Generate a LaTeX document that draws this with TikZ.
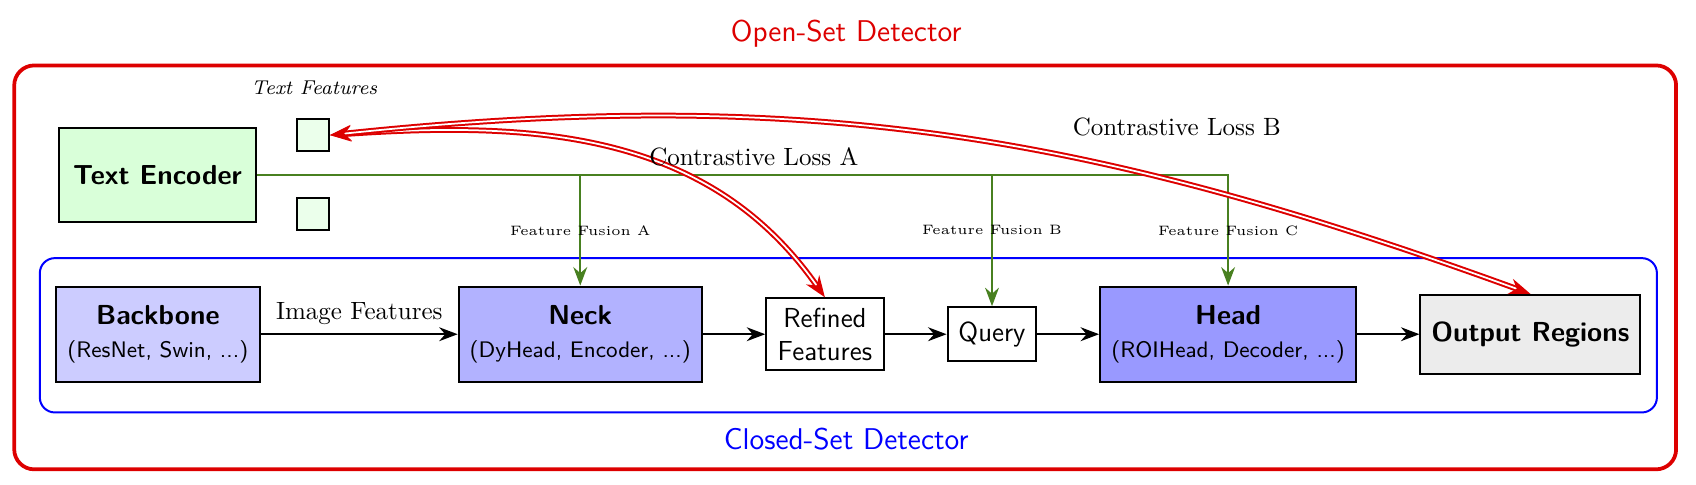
\documentclass[tikz,border=0pt]{standalone}
\usepackage{tikz}
\usetikzlibrary{arrows.meta,positioning,calc}
\definecolor{lossred}{RGB}{221,0,0}
\definecolor{fusegreen}{RGB}{72,128,32}
\tikzset{
  block/.style={draw=black,thick,align=center,font=\sffamily\fontsize{11}{13}\selectfont,
    minimum height=1.34cm},
  smallblock/.style={block,fill=white,minimum height=0.76cm},
  featbox/.style={draw=black,thick,fill=green!8,minimum size=0.45cm,inner sep=0pt},
  flow/.style={thick,-{Stealth[length=2.6mm]}},
  fuse/.style={thick,fusegreen,-{Stealth[length=2.6mm]}},
  contrast/.style={thick,draw=lossred,double=white,double distance=0.7pt,
    {Stealth[length=3mm]}-{Stealth[length=3mm]}},
  fuselabel/.style={font=\fontsize{5.45}{6.5}\selectfont},
  frametitle/.style={font=\sffamily\large}
}
\begin{document}
\begin{tikzpicture}
  \useasboundingbox (0,-2.11) rectangle (23.85,4.70);
  % outer and inner detector frames
  \draw[lossred,line width=1.5pt,rounded corners=8pt] (0.2,-1.90) rectangle (23.57,3.78);
  \node[frametitle,lossred] (openset) at (11.9,4.22) {Open-Set Detector};
  \draw[blue,thick,rounded corners=6pt] (0.56,-1.10) rectangle (23.30,1.07);
  \node[frametitle,blue] (closedset) at (11.9,-1.48) {Closed-Set Detector};
  % closed-set pipeline
  \node[block,fill=blue!20,minimum width=2.87cm] (backbone) at (2.22,0)
    {\textbf{Backbone}\\{\small(ResNet, Swin, ...)}};
  \node[block,fill=blue!30,minimum width=3.42cm] (neck) at (8.16,0)
    {\textbf{Neck}\\{\small(DyHead, Encoder, ...)}};
  \node[smallblock,minimum width=1.65cm,minimum height=1.01cm] (refined) at (11.6,0)
    {Refined\\Features};
  \node[smallblock,minimum width=1.25cm] (query) at (13.95,0) {Query};
  \node[block,fill=blue!40,minimum width=3.6cm] (head) at (17.27,0)
    {\textbf{Head}\\{\small(ROIHead, Decoder, ...)}};
  \node[block,fill=gray!15,minimum width=3.09cm,minimum height=1.11cm] (output) at (21.52,0)
    {\textbf{Output Regions}};
  \draw[flow] (backbone) -- node[above] {Image Features} (neck);
  \draw[flow] (neck) -- (refined);
  \draw[flow] (refined) -- (query);
  \draw[flow] (query) -- (head);
  \draw[flow] (head) -- (output);
  % text branch
  \node[block,fill=green!15,minimum width=2.77cm,minimum height=1.32cm] (textenc) at (2.215,2.24)
    {\textbf{Text Encoder}};
  \node[featbox] (featA) at (4.40,2.80) {};
  \node[featbox] (featB) at (4.40,1.69) {};
  \node[font=\footnotesize\itshape] (textfeat) at (4.42,3.46) {Text Features};
  \draw[fuse] (textenc.east) -| (neck.north);
  \draw[fuse] (textenc.east) -| (query.north);
  \draw[fuse] (textenc.east) -| (head.north);
  \node[fuselabel] (fusionA) at (neck.north |- 0,1.46) {Feature Fusion A};
  \node[fuselabel] (fusionB) at (query.north |- 0,1.46) {Feature Fusion B};
  \node[fuselabel] (fusionC) at (head.north |- 0,1.46) {Feature Fusion C};
  % contrastive losses
  \draw[contrast] (featA.east) to[out=4,in=125] (refined.north);
  \draw[contrast] (featA.east) to[out=6,in=160] (output.north);
  \node (lossA) at (10.60,2.49) {Contrastive Loss A};
  \node (lossB) at (16.55,2.91) {Contrastive Loss B};
\end{tikzpicture}
\end{document}
